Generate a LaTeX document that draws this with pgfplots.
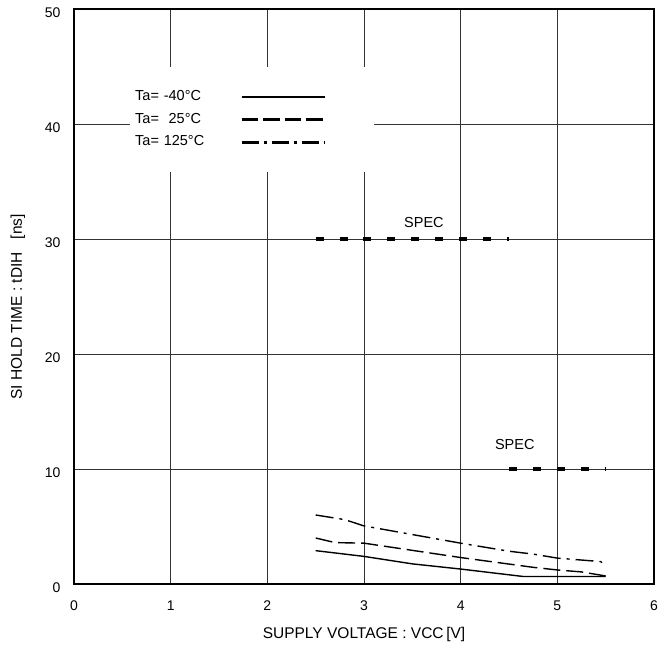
\documentclass[border=0pt]{standalone}
\usepackage{fontspec}
\setmainfont{Liberation Sans}
\usepackage{pgfplots}
\pgfplotsset{compat=1.18}
\begin{document}
\begin{tikzpicture}
\begin{axis}[
  scale only axis, width=580pt, height=575pt,
  xmin=0, xmax=6, ymin=0, ymax=50,
  xtick={0,1,2,3,4,5,6}, ytick={0,10,20,30,40,50},
  grid=major, grid style={black!80, line width=0.6pt},
  axis line style={line width=1.8pt},
  tick style={draw=none},
  /pgf/number format/assume math mode=true,
  ticklabel style={font=\fontsize{14}{16}\selectfont},
  xticklabel style={yshift=-13pt},
  yticklabel style={xshift=-10pt, yshift=-4pt},
  xlabel={SUPPLY VOLTAGE : VCC\,[V]},
  ylabel={SI HOLD TIME : tDIH\ \ \ [ns]},
  label style={font=\fontsize{15.5}{18}\selectfont},
  xlabel style={at={(axis description cs:0.5,-0.087)}, anchor=center},
  ylabel style={at={(axis description cs:-0.0966,0.482)}, anchor=center},
  legend plot pos=right,
  legend cell align=left,
  legend image code/.code={\draw[#1] (0pt,0pt) -- (83pt,0pt);},
  legend style={at={(axis cs:0.631,42.9)}, anchor=north west, draw=none, fill=none,
    inner sep=0pt, column sep=0pt, row sep=9.5pt,
    font=\fontsize{14.5}{16}\selectfont,
    nodes={inner sep=0pt, text width=105pt, text height=10pt, text depth=3pt}},
]
% white background of the legend
\fill[white] (axis cs:0.58,44.95) rectangle (axis cs:3.1,35.8);

% SPEC lines
\addplot[forget plot, black, line width=3.3pt, dash pattern=on 8pt off 15.9pt]
  coordinates {(2.5,30) (4.5,30)};
\addplot[forget plot, black, line width=3.3pt, dash pattern=on 8pt off 15.9pt]
  coordinates {(4.5,10) (5.5,10)};
\node[font=\fontsize{14.5}{16}\selectfont] at (axis cs:3.62,31.4) {SPEC};
\node[font=\fontsize{14.5}{16}\selectfont] at (axis cs:4.56,12.1) {SPEC};

% Ta = -40
\addplot[forget plot, black, line width=1.4pt] coordinates {
  (2.5,2.9) (3.0,2.4) (3.5,1.75) (4.0,1.3) (4.65,0.65) (5.5,0.65)};
% Ta = 25
\addplot[forget plot, black, line width=1.4pt, dash pattern=on 17pt off 6pt] coordinates {
  (2.5,4.0) (2.7,3.6) (3.0,3.55) (4.0,2.3) (4.75,1.45) (5.0,1.22) (5.25,1.05) (5.5,0.7)};
% Ta = 125
\addplot[forget plot, black, line width=1.4pt, dash pattern=on 18pt off 6pt on 3pt off 6pt] coordinates {
  (2.5,6.0) (2.8,5.6) (3.0,5.05) (4.0,3.55) (4.5,2.85) (4.75,2.6) (5.0,2.25) (5.45,1.95) (5.5,1.5)};

\addlegendimage{black, line width=1.7pt}
\addlegendentry{Ta= -40\textdegree C}
\addlegendimage{black, line width=2.7pt, dash pattern=on 16.5pt off 5pt}
\addlegendentry{Ta=\ \ 25\textdegree C}
\addlegendimage{black, line width=2.7pt, dash pattern=on 17pt off 5pt on 3pt off 5pt}
\addlegendentry{Ta= 125\textdegree C}
\end{axis}
\path (current axis.south west) ++(-74pt,-70pt);
\path (current axis.north east) ++(16pt,9pt);
\end{tikzpicture}
\end{document}
